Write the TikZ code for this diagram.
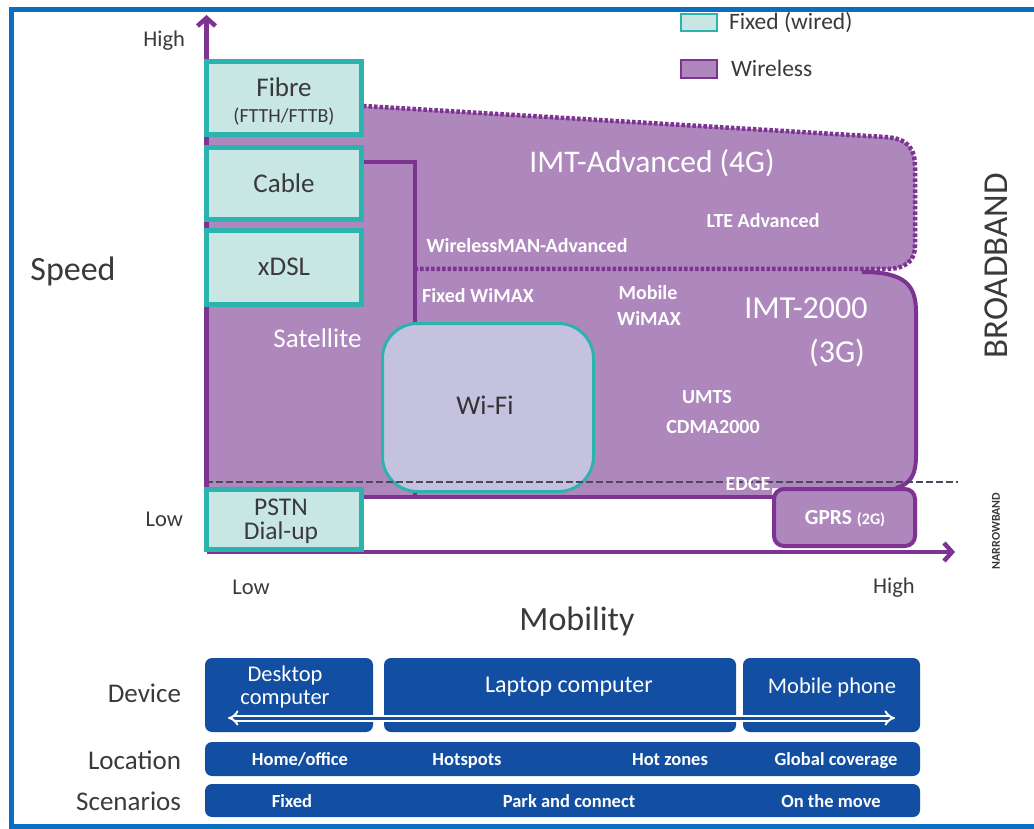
\documentclass[tikz,border=0pt]{standalone}
\usepackage{fontspec}
\setmainfont{Carlito}
\usetikzlibrary{arrows.meta}
\definecolor{wlfill}{HTML}{AE88BD}
\definecolor{wlline}{HTML}{7D3391}
\definecolor{fxline}{HTML}{2CB3AD}
\definecolor{fxfill}{HTML}{C7E6E4}
\definecolor{wififill}{HTML}{C5C2E0}
\definecolor{boxblue}{HTML}{124FA2}
\definecolor{frameblue}{HTML}{0A6FC2}
\definecolor{txt}{HTML}{3A3A3A}
\definecolor{dashgray}{HTML}{4A4A5A}
\newcommand\fsz[2]{\fontsize{#1}{#2}\selectfont}
\begin{document}
\begin{tikzpicture}[x=1pt,y=-1pt,
  every node/.style={inner sep=0pt, outer sep=0pt},
  lbl/.style={anchor=base, text=txt},
  wtxt/.style={anchor=base, text=white},
  big/.style={font=\fsz{27}{32}},
  boldsm/.style={font=\bfseries\fsz{20}{24}},
  fixedbox/.style={draw=fxline, fill=fxfill, line width=5pt, minimum width=155pt},
  wlsolid/.style={draw=wlline, line width=4pt},
  dotline/.style={draw=wlline, line width=4.5pt, dash pattern=on 3.5pt off 2pt},
  bluebox/.style={fill=boxblue, rounded corners=7pt},
  axisline/.style={draw=wlline, line width=4.5pt, -{Straight Barb[length=8pt,width=18pt]}},
  btxt/.style={anchor=base, text=white, font=\bfseries\fsz{18.5}{22}},
  dtxt/.style={anchor=base, text=white, font=\fsz{24}{28}},
  rowlbl/.style={anchor=base east, text=txt, font=\fsz{27}{32}}
]
\useasboundingbox (0,0) rectangle (1034,829);
% frame
\draw[frameblue, line width=5pt, line join=miter] (1040,10) -- (11.5,10) -- (11.5,826.5) -- (1040,826.5);

% wireless fills
\fill[wlfill] (362,106) -- (885,137) .. controls (908,138.5) and (915,148) .. (915,168)
  -- (915,245) .. controls (915,262) and (905,269) .. (885,269) -- (362,269) -- cycle;
\fill[wlfill] (206,136) rectangle (415,497);
\fill[wlfill] (415,268) -- (862,268) .. controls (905,272) and (916,285) .. (916,312)
  -- (916,455) .. controls (916,476) and (910,484) .. (896,488) -- (772,488) -- (772,497) -- (415,497) -- cycle;

% outlines
\draw[dotline] (363,106) -- (885,137) .. controls (908,138.5) and (915,148) .. (915,168)
  -- (915,245) .. controls (915,262) and (905,269) .. (885,269) -- (417,269);
\draw[wlsolid] (362,162) -- (415,162) -- (415,497);
\draw[wlsolid] (862,272) .. controls (905,272) and (916,285) .. (916,312)
  -- (916,455) .. controls (916,476) and (910,484) .. (896,488);
\draw[wlsolid] (206,497) -- (790,497);

% Wi-Fi
\node[draw=fxline, fill=wififill, line width=3pt, rounded corners=35pt,
  minimum width=211pt, minimum height=168pt] (wifi) at (488,407.5) {};

% narrowband / broadband separator
\coordinate (dashL) at (206,482);
\coordinate (dashR) at (958,482);
\draw[dashgray, line width=2pt, dash pattern=on 7pt off 3pt] (dashL) -- (dashR);

% axes
\coordinate (origin) at (206.5,552);
\coordinate (ytip) at (206.5,15);
\coordinate (xtip) at (955,552);
\draw[axisline] (origin) -- (ytip);
\draw[axisline] (origin) -- (xtip);

% fixed boxes
\node[fixedbox, minimum height=73pt] (fibre) at (284,98) {};
\node[fixedbox, minimum height=72pt] (cable) at (284,183.5) {};
\node[fixedbox, minimum height=74pt] (xdsl) at (284,267.5) {};
\node[fixedbox, minimum height=60pt] (pstn) at (284,519.5) {};

% GPRS
\node[draw=wlline, fill=wlfill, line width=4pt, rounded corners=10pt,
  minimum width=141pt, minimum height=57pt] (gprs) at (844.5,517.5) {};

% axis labels
\node[lbl, anchor=base east, font=\fsz{22.5}{26}] (hiY) at (185,47) {High};
\node[lbl, anchor=base east, font=\fsz{22.5}{26}] (loY) at (183,526) {Low};
\node[lbl, font=\fsz{22.5}{26}] (loX) at (251,594) {Low};
\node[lbl, font=\fsz{22.5}{26}] (hiX) at (894,593) {High};
\node[lbl, font=\fsz{34}{40}] (speed) at (73,281) {Speed};
\node[lbl, font=\fsz{34}{40}] (mobility) at (577,630) {Mobility};
\node[text=txt, font=\fsz{35}{40}, rotate=90] (broad) at (996,266) {BROADBAND};
\node[text=txt, font=\bfseries\fsz{12}{14}, rotate=90] (narrow) at (996,531) {NARROWBAND};

% fixed texts
\node[lbl, big] (fibreT) at (284,97) {Fibre};
\node[lbl, font=\fsz{20}{23}] (fibreS) at (284,123) {(FTTH/FTTB)};
\node[lbl, big] (cableT) at (284,193) {Cable};
\node[lbl, big] (xdslT) at (284,276) {xDSL};
\node[lbl, font=\fsz{25.5}{29}] (pstnT) at (281,515) {PSTN};
\node[lbl, font=\fsz{25.5}{29}] (dialT) at (281,539) {Dial-up};
\node[lbl, big, text=black!80] (wifiT) at (485,414) {Wi-Fi};

% wireless texts
\node[wtxt, font=\fsz{31.5}{36}] (t4g) at (652,173) {IMT-Advanced (4G)};
\node[wtxt, boldsm] (lte) at (763,228) {LTE Advanced};
\node[wtxt, boldsm] (wman) at (527,253) {WirelessMAN-Advanced};
\node[wtxt, boldsm] (fwimax) at (478,302) {Fixed WiMAX};
\node[wtxt, boldsm] (mwimaxA) at (648,300) {Mobile};
\node[wtxt, boldsm] (mwimaxB) at (649,325) {WiMAX};
\node[wtxt, font=\fsz{32}{36}] (imt2000) at (806,319) {IMT-2000};
\node[wtxt, font=\fsz{32}{36}] (t3g) at (837,362) {(3G)};
\node[wtxt, big] (sat) at (317.5,347) {Satellite};
\node[wtxt, boldsm] (umts) at (707,403) {UMTS};
\node[wtxt, boldsm] (cdma) at (713,433) {CDMA2000};
\node[wtxt, boldsm] (edge) at (748,490) {EDGE};
\node[wtxt, font=\bfseries\fsz{21.5}{24}] (gprsT) at (845,524) {GPRS {\fsz{16}{18}(2G)}};

% legend
\node[draw=fxline, fill=fxfill, line width=2.5pt, minimum width=36pt, minimum height=17pt] (legfx) at (699,22.5) {};
\node[lbl, anchor=base west, font=\fsz{23.5}{27}] (legfxT) at (729,30) {Fixed (wired)};
\node[draw=wlline, fill=wlfill, line width=2.5pt, minimum width=36pt, minimum height=18pt] (legwl) at (699,69) {};
\node[lbl, anchor=base west, font=\fsz{23.5}{27}] (legwlT) at (731,77) {Wireless};

% bottom table
\node[bluebox, minimum width=168pt, minimum height=74pt] (desk) at (289,695) {};
\node[bluebox, minimum width=352pt, minimum height=74pt] (lap) at (560,695) {};
\node[bluebox, minimum width=177pt, minimum height=74pt] (mobph) at (831.5,695) {};
\node[bluebox, minimum width=715pt, minimum height=34pt] (loc) at (562.5,759) {};
\node[bluebox, minimum width=715pt, minimum height=33pt] (scen) at (562.5,800.5) {};

\coordinate (arrL) at (228,718);
\coordinate (arrR) at (895,718);
\draw[draw=white, line width=2pt, double=boxblue, double distance=3pt, {Implies}-{Implies}] (arrL) -- (arrR);

\node[dtxt, font=\fsz{22.5}{26}] (deskA) at (285,681) {Desktop};
\node[dtxt, font=\fsz{22.5}{26}] (deskB) at (285,704) {computer};
\node[dtxt] (lapT) at (569,692) {Laptop computer};
\node[dtxt, font=\fsz{22.5}{26}] (mobT) at (832,693) {Mobile phone};
\node[btxt] (home) at (300,765) {Home/office};
\node[btxt] (hots) at (467,765) {Hotspots};
\node[btxt] (hotz) at (670,765) {Hot zones};
\node[btxt] (glob) at (836,765) {Global coverage};
\node[btxt] (fixd) at (292,807) {Fixed};
\node[btxt] (park) at (569,807) {Park and connect};
\node[btxt] (move) at (831,807) {On the move};

\node[rowlbl] (devL) at (181,702) {Device};
\node[rowlbl] (locL) at (181,769) {Location};
\node[rowlbl] (scenL) at (181,810) {Scenarios};
\end{tikzpicture}
\end{document}
